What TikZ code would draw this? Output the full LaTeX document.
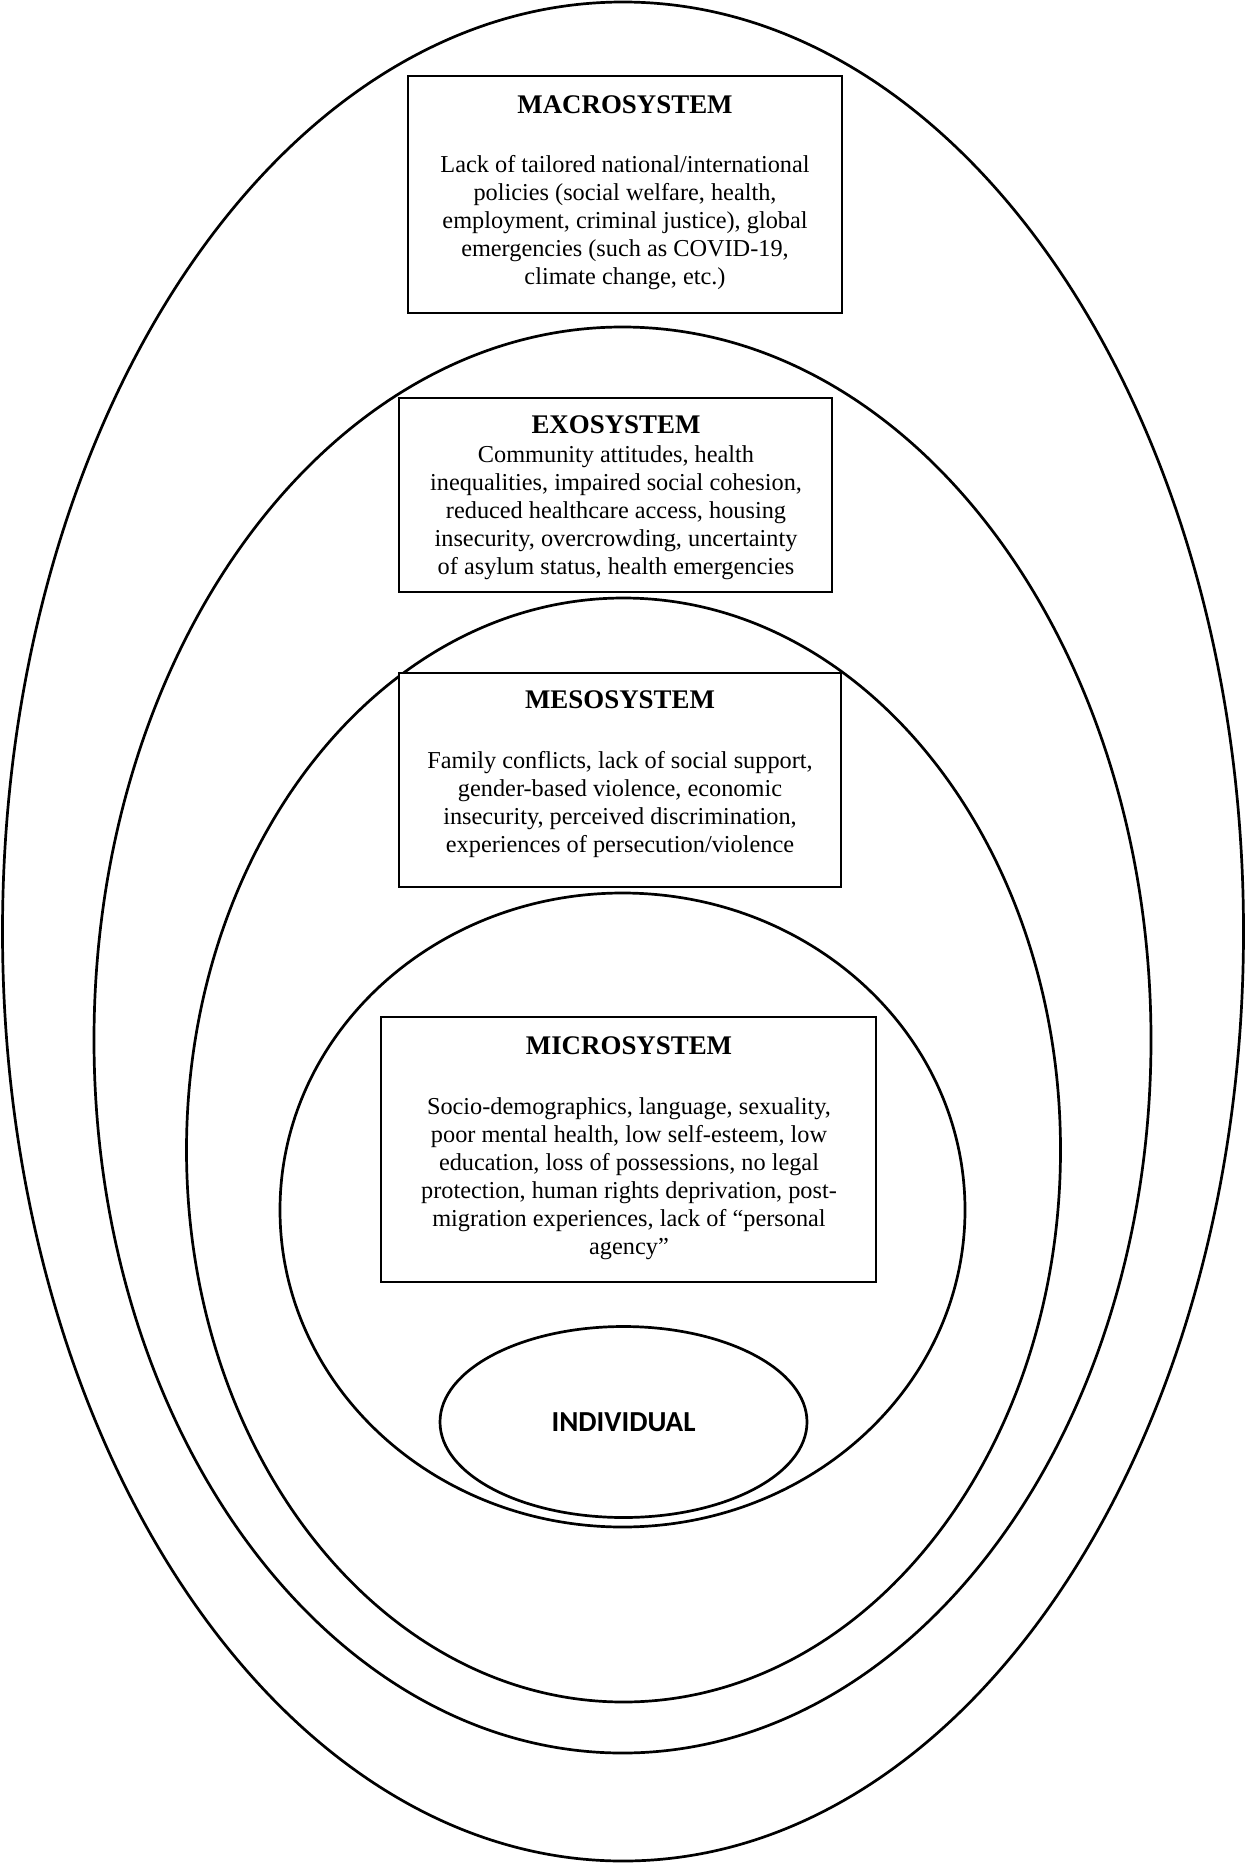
\documentclass[tikz,border=0pt]{standalone}
\usepackage{fontspec}
\setmainfont{Liberation Serif}
\newfontfamily\indivfont{Carlito}
\begin{document}
\begin{tikzpicture}[x=1pt,y=-1pt,
  ring/.style={draw=black, line width=2.7pt},
  sysbox/.style={draw=black, line width=1.3pt, fill=white, inner sep=0pt},
  heading/.style={anchor=base, inner sep=0pt, font=\fontsize{26.9}{30}\selectfont\bfseries},
  body/.style={anchor=base, inner sep=0pt, font=\fontsize{24.3}{28}\selectfont},
  indiv/.style={draw=black, line width=2.7pt, ellipse, inner sep=0pt}
]
\useasboundingbox (0,0) rectangle (1246,1863);

% nested system ellipses
\draw[ring] (623,931.5) ellipse [x radius=620.5, y radius=929.5];
\draw[ring] (622.5,1040) ellipse [x radius=528.5, y radius=713];
\draw[ring] (623.5,1150) ellipse [x radius=437, y radius=552];
\draw[ring] (622.5,1210) ellipse [x radius=342.5, y radius=317];
\draw[ring] (623.5,1422) ellipse [x radius=183.5, y radius=95.5];
\node[inner sep=0pt, anchor=base, font=\indivfont\bfseries\fontsize{29}{32}\selectfont] (individual) at (623.5,1431) {INDIVIDUAL};

% MACROSYSTEM
\node[sysbox, minimum width=434, minimum height=237] (macrobox) at (625,194.5) {};
\node[heading] (macrohead) at (625,113) {MACROSYSTEM};
\node[body] (macrotext) at (625,172) {\begin{tabular}[t]{@{}c@{}}Lack of tailored national/international\\ policies (social welfare, health,\\ employment, criminal justice), global\\ emergencies (such as COVID-19,\\ climate change, etc.)\end{tabular}};

% EXOSYSTEM
\node[sysbox, minimum width=433, minimum height=194] (exobox) at (615.5,495) {};
\node[heading] (exohead) at (616,433) {EXOSYSTEM};
\node[body] (exotext) at (616,462) {\begin{tabular}[t]{@{}c@{}}Community attitudes, health\\ inequalities, impaired social cohesion,\\ reduced healthcare access, housing\\ insecurity, overcrowding, uncertainty\\ of asylum status, health emergencies\end{tabular}};

% MESOSYSTEM
\node[sysbox, minimum width=442, minimum height=214] (mesobox) at (620,780) {};
\node[heading] (mesohead) at (620,708) {MESOSYSTEM};
\node[body] (mesotext) at (620,768) {\begin{tabular}[t]{@{}c@{}}Family conflicts, lack of social support,\\ gender-based violence, economic\\ insecurity, perceived discrimination,\\ experiences of persecution/violence\end{tabular}};

% MICROSYSTEM
\node[sysbox, minimum width=495, minimum height=265] (microbox) at (628.5,1149.5) {};
\node[heading] (microhead) at (629,1054) {MICROSYSTEM};
\node[body] (microtext) at (629,1114) {\begin{tabular}[t]{@{}c@{}}Socio-demographics, language, sexuality,\\ poor mental health, low self-esteem, low\\ education, loss of possessions, no legal\\ protection, human rights deprivation, post-\\ migration experiences, lack of “personal\\ agency”\end{tabular}};
\end{tikzpicture}
\end{document}
